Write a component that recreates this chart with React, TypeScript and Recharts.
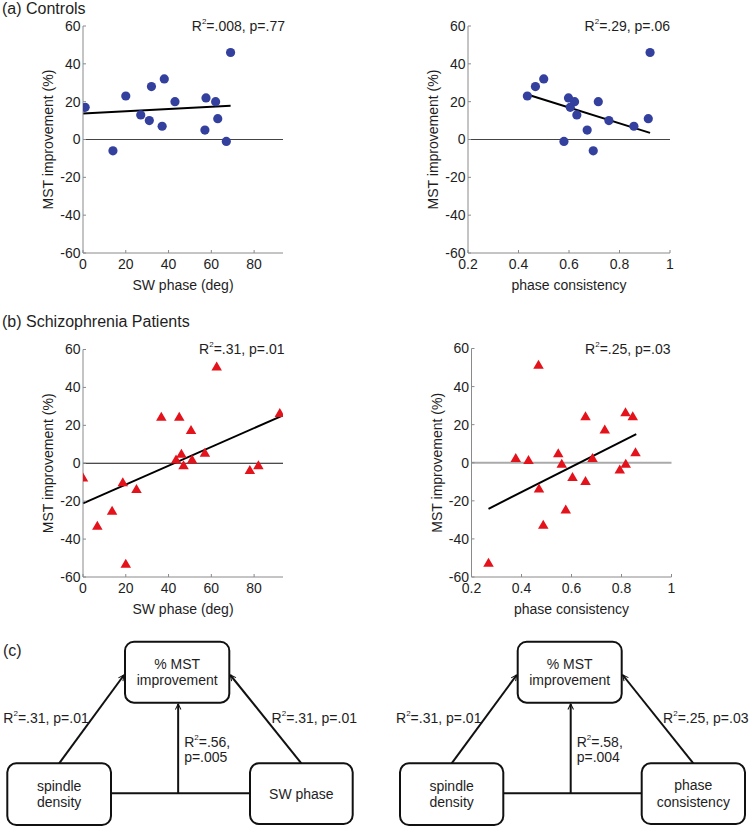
import React from 'react';
import { ScatterChart, Scatter, XAxis, YAxis, ReferenceLine } from 'recharts';

const FONT = '"Liberation Sans", Arial, Helvetica, sans-serif';
const TEXT = '#1e1e1e';
const AXIS = '#8a8a8a';
const BLUE = '#34409e';
const RED = '#e3121b';

// (a) Controls
const ctrlPhase = [1, 14, 20, 27, 32, 31, 38, 37, 43, 57.5, 57, 62, 63, 67, 69];
const ctrlPhaseImp = [17, -6, 23, 13, 28, 10, 32, 7, 20, 22, 5, 20, 11, -1, 46];
const ctrlCons = [0.435, 0.467, 0.5, 0.598, 0.622, 0.605, 0.631, 0.716, 0.672, 0.58, 0.696, 0.758, 0.857, 0.914, 0.921];
const ctrlConsImp = [23, 28, 32, 22, 20, 17, 13, 20, 5, -1, -6, 10, 7, 11, 46];
const ctrlPhaseFitX = [0, 69];
const ctrlPhaseFitY = [13.8, 17.8];
const ctrlConsFitX = [0.435, 0.921];
const ctrlConsFitY = [23.8, 3.5];

// (b) Schizophrenia patients
const szPhase = [0, 6.7, 13.6, 18.6, 20, 25, 36.6, 45, 43.5, 46, 47, 50.5, 51, 57, 62.5, 78, 82, 92];
const szPhaseImp = [-7.5, -33, -25, -10, -53, -13.5, 24.5, 24.5, 2, 5, -1, 17.5, 2, 5.5, 51, -3.5, -1, 26.5];
const szCons = [0.268, 0.377, 0.428, 0.468, 0.47, 0.487, 0.547, 0.561, 0.577, 0.604, 0.656, 0.656, 0.684, 0.733, 0.793, 0.817, 0.816, 0.845, 0.856];
const szConsImp = [-52.5, 2.5, 1.5, 51.5, -13.5, -32.5, 5, -0.5, -24.5, -7.5, -9.5, 24.5, 2.5, 17.5, -3.5, -0.5, 26.5, 24.5, 5.5];
const szPhaseFitX = [0, 93];
const szPhaseFitY = [-21.2, 25];
const szConsFitX = [0.268, 0.859];
const szConsFitY = [-24.2, 15];

const yTicks = [-60, -40, -20, 0, 20, 40, 60];
const phaseTicks = [0, 20, 40, 60, 80];
const consTicks = [0.2, 0.4, 0.6, 0.8, 1];

const zip = (xs: number[], ys: number[]) => xs.map((x, i) => ({ x, y: ys[i] }));

const Dot = (p: any) => <circle cx={p.cx} cy={p.cy} r={4.6} fill={BLUE} />;
const Tri = (p: any) => {
  const w = 10.5, h = 9;
  const { cx, cy } = p;
  return (
    <polygon
      points={`${cx},${cy - h * 0.55} ${cx + w / 2},${cy + h * 0.45} ${cx - w / 2},${cy + h * 0.45}`}
      fill={RED}
    />
  );
};

const YLabel = (props: any) => {
  const vb = props.viewBox || {};
  const cx = vb.x + vb.width - 35;
  const cy = vb.y + vb.height / 2;
  return (
    <text x={cx} y={cy} transform={`rotate(-90 ${cx} ${cy})`} textAnchor="middle" dominantBaseline="central"
      fontSize={14} fill={TEXT} fontFamily={FONT}>MST improvement (%)</text>
  );
};

const makeXLabel = (label: string) => (props: any) => {
  const vb = props.viewBox || {};
  const cx = vb.x + vb.width / 2;
  const cy = vb.y + 32;
  return (
    <text x={cx} y={cy} textAnchor="middle" dominantBaseline="central" fontSize={14} fill={TEXT} fontFamily={FONT}>{label}</text>
  );
};

type PanelProps = {
  left: number; top: number; width: number; height: number;
  margin: { top: number; right: number; bottom: number; left: number };
  xDomain: [number, number]; xTicks: number[]; xLabel: string;
  xs: number[]; ys: number[]; fitX: number[]; fitY: number[];
  shape: any; zeroStroke: string; zeroWidth: number;
};

function Panel(p: PanelProps) {
  const data = zip(p.xs, p.ys);
  const tickStyle = { fontSize: 14, fill: TEXT, fontFamily: FONT };
  return (
    <div style={{ position: 'absolute', left: p.left, top: p.top, width: p.width, height: p.height }}>
      <ScatterChart width={p.width} height={p.height} margin={p.margin}>
        <XAxis type="number" dataKey="x" domain={p.xDomain} ticks={p.xTicks} allowDataOverflow
          height={30} stroke={AXIS} tickSize={-3} tickMargin={9} tick={tickStyle}
          tickLine={{ stroke: AXIS }} axisLine={{ stroke: AXIS }} interval={0}
          label={{ content: makeXLabel(p.xLabel) }} />
        <YAxis type="number" dataKey="y" domain={[-60, 60]} ticks={yTicks} allowDataOverflow
          width={60} stroke={AXIS} tickSize={-3} tickMargin={5.5} tick={tickStyle}
          tickLine={{ stroke: AXIS }} axisLine={{ stroke: AXIS }} interval={0}
          label={{ content: YLabel }} />
        <ReferenceLine y={0} stroke={p.zeroStroke} strokeWidth={p.zeroWidth} />
        <Scatter data={data} shape={p.shape} isAnimationActive={false} />
        <ReferenceLine segment={[{ x: p.fitX[0], y: p.fitY[0] }, { x: p.fitX[1], y: p.fitY[1] }]}
          stroke="#000" strokeWidth={2} ifOverflow="visible" />
      </ScatterChart>
    </div>
  );
}

const R2 = ({ x, y, r, p, anchor = 'end' }: { x: number; y: number; r: string; p: string; anchor?: string }) => (
  <text x={x} y={y} textAnchor={anchor as any} fontSize={14} fill={TEXT} fontFamily={FONT} dominantBaseline="central">
    R<tspan fontSize={8} dy={-5}>2</tspan><tspan dy={5}>{`=${r}, p=${p}`}</tspan>
  </text>
);

function Box({ x, y, w, h, lines }: { x: number; y: number; w: number; h: number; lines: string[] }) {
  const cx = x + w / 2;
  const cy = y + h / 2;
  const lh = 16.5;
  return (
    <g>
      <rect x={x} y={y} width={w} height={h} rx={9} ry={9} fill="#fff" stroke="#111" strokeWidth={2} />
      {lines.map((l, i) => (
        <text key={i} x={cx} y={cy + (i - (lines.length - 1) / 2) * lh} textAnchor="middle" dominantBaseline="central"
          fontSize={14} fill={TEXT} fontFamily={FONT}>{l}</text>
      ))}
    </g>
  );
}

function Diagram({ ox, right, midR, midP, sideR, boxes }: any) {
  return (
    <g>
      {/* horizontal connector */}
      <line x1={boxes.left.x + boxes.left.w} y1={793.3} x2={boxes.right.x} y2={793.3} stroke="#111" strokeWidth={2} />
      {/* vertical arrow */}
      <line x1={boxes.top.x + boxes.top.w / 2 + 1} y1={793.3} x2={boxes.top.x + boxes.top.w / 2 + 1} y2={704} stroke="#111" strokeWidth={2} markerEnd="url(#arr)" />
      {/* diagonals */}
      <line x1={boxes.left.x + boxes.left.w / 2 + ox} y1={763.3} x2={boxes.top.x - 1} y2={675} stroke="#111" strokeWidth={2} markerEnd="url(#arr)" />
      <line x1={boxes.right.x + boxes.right.w / 2} y1={763.3} x2={boxes.top.x + boxes.top.w + 1} y2={675} stroke="#111" strokeWidth={2} markerEnd="url(#arr)" />
      <Box {...boxes.top} />
      <Box {...boxes.left} />
      <Box {...boxes.right} />
      <R2 x={boxes.left.x - 4} y={718.3} r=".31" p=".01" anchor="start" />
      <R2 x={right} y={718.3} r={sideR.r} p={sideR.p} anchor="end" />
      <text x={boxes.top.x + boxes.top.w / 2 + 7} y={741.7} fontSize={14} fill={TEXT} fontFamily={FONT} dominantBaseline="central">
        R<tspan fontSize={8} dy={-5}>2</tspan><tspan dy={5}>{`=${midR},`}</tspan>
      </text>
      <text x={boxes.top.x + boxes.top.w / 2 + 7} y={756.7} fontSize={14} fill={TEXT} fontFamily={FONT} dominantBaseline="central">
        {`p=${midP}`}
      </text>
    </g>
  );
}

export default function App() {
  return (
    <div style={{ position: 'absolute', left: 0, top: 0, width: 750, height: 827, background: '#fff', overflow: 'hidden' }}>
      <Panel left={0} top={0} width={300} height={300}
        margin={{ top: 26, right: 17, bottom: 17, left: 23 }}
        xDomain={[0, 93.5]} xTicks={phaseTicks} xLabel="SW phase (deg)"
        xs={ctrlPhase} ys={ctrlPhaseImp} fitX={ctrlPhaseFitX} fitY={ctrlPhaseFitY}
        shape={Dot} zeroStroke="#444" zeroWidth={1} />
      <Panel left={380} top={0} width={310} height={300}
        margin={{ top: 26, right: 20, bottom: 17, left: 28 }}
        xDomain={[0.2, 1]} xTicks={consTicks} xLabel="phase consistency"
        xs={ctrlCons} ys={ctrlConsImp} fitX={ctrlConsFitX} fitY={ctrlConsFitY}
        shape={Dot} zeroStroke="#444" zeroWidth={1} />
      <Panel left={0} top={290} width={300} height={330}
        margin={{ top: 59.5, right: 17, bottom: 13, left: 23 }}
        xDomain={[0, 93.5]} xTicks={phaseTicks} xLabel="SW phase (deg)"
        xs={szPhase} ys={szPhaseImp} fitX={szPhaseFitX} fitY={szPhaseFitY}
        shape={Tri} zeroStroke="#111" zeroWidth={1} />
      <Panel left={380} top={290} width={310} height={330}
        margin={{ top: 58.5, right: 18.5, bottom: 13, left: 31.5 }}
        xDomain={[0.2, 1]} xTicks={consTicks} xLabel="phase consistency"
        xs={szCons} ys={szConsImp} fitX={szConsFitX} fitY={szConsFitY}
        shape={Tri} zeroStroke="#aaaaaa" zeroWidth={2} />

      <svg width={750} height={827} style={{ position: 'absolute', left: 0, top: 0, pointerEvents: 'none' }}>
        <defs>
          <marker id="arr" viewBox="0 0 10 10" refX={9} refY={5} markerWidth={7} markerHeight={7} orient="auto" markerUnits="userSpaceOnUse">
            <path d="M1,1 L9,5 L1,9" fill="none" stroke="#111" strokeWidth={1.5} />
          </marker>
        </defs>
        <text x={2} y={8.5} fontSize={16} fill={TEXT} fontFamily={FONT} dominantBaseline="central">(a) Controls</text>
        <text x={2} y={321} fontSize={16} fill={TEXT} fontFamily={FONT} dominantBaseline="central">(b) Schizophrenia Patients</text>
        <text x={3} y={650} fontSize={16} fill={TEXT} fontFamily={FONT} dominantBaseline="central">(c)</text>

        <R2 x={285} y={26} r=".008" p=".77" />
        <R2 x={670} y={26} r=".29" p=".06" />
        <R2 x={284.5} y={349.3} r=".31" p=".01" />
        <R2 x={670.5} y={348.5} r=".25" p=".03" />

        <Diagram ox={0} right={357} midR=".56" midP=".005" sideR={{ r: '.31', p: '.01' }}
          boxes={{
            top: { x: 125, y: 641.7, w: 104.3, h: 61, lines: ['% MST', 'improvement'] },
            left: { x: 7.3, y: 763.3, w: 103.7, h: 61.7, lines: ['spindle', 'density'] },
            right: { x: 250, y: 763.3, w: 102.7, h: 60.7, lines: ['SW phase'] },
          }} />
        <Diagram ox={0} right={748.5} midR=".58" midP=".004" sideR={{ r: '.25', p: '.03' }}
          boxes={{
            top: { x: 517.7, y: 641.7, w: 104, h: 61, lines: ['% MST', 'improvement'] },
            left: { x: 400, y: 763.3, w: 103.3, h: 61.7, lines: ['spindle', 'density'] },
            right: { x: 641.7, y: 763.3, w: 103.3, h: 60.7, lines: ['phase', 'consistency'] },
          }} />
      </svg>
    </div>
  );
}
